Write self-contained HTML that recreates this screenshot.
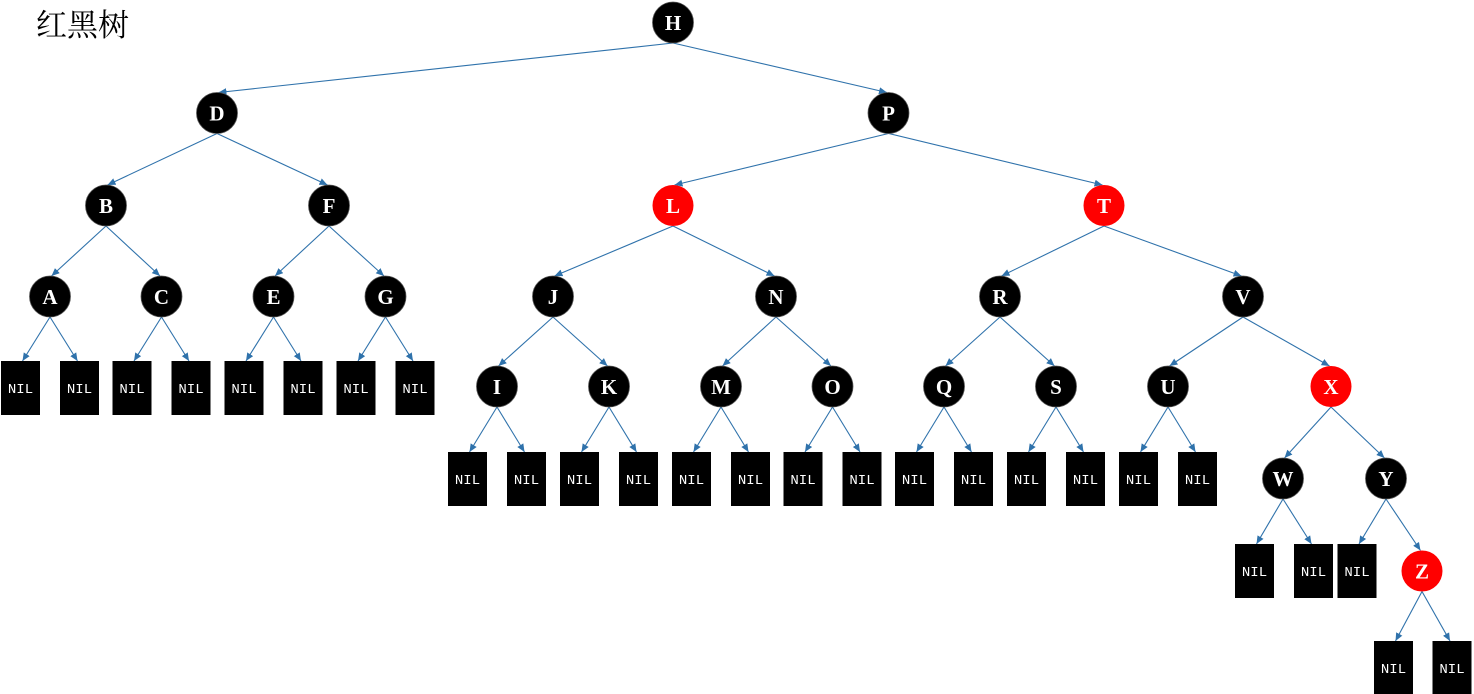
<!DOCTYPE html>
<html><head><meta charset="utf-8"><style>
html,body{margin:0;padding:0;background:#fff;}
svg{display:block;}
.e{stroke:#2f72ab;stroke-width:1.1;fill:none;marker-end:url(#ah);}
.c{stroke:#555;stroke-width:0.8;}
.lt{font-family:"Liberation Serif",serif;font-size:21px;font-weight:bold;fill:#fff;text-anchor:middle;}
.nl{font-family:"Liberation Mono",monospace;font-size:14px;fill:#fff;text-anchor:middle;}
</style></head><body>
<svg width="1474" height="694" viewBox="0 0 1474 694" xmlns="http://www.w3.org/2000/svg">
<defs><marker id="ah" markerUnits="userSpaceOnUse" markerWidth="9" markerHeight="8" refX="8" refY="3.5" orient="auto"><path d="M0,0 L8,3.5 L0,7 z" fill="#2f72ab"/></marker></defs>
<text x="36" y="36" style="font-family:'Noto Serif CJK SC','Liberation Serif',serif;font-size:31px;fill:#000;">红黑树</text>
<line class="e" x1="673" y1="43" x2="218.5" y2="92.5"/>
<line class="e" x1="673" y1="43" x2="887" y2="92.5"/>
<line class="e" x1="217" y1="133.5" x2="107.5" y2="185"/>
<line class="e" x1="217" y1="133.5" x2="327.5" y2="185"/>
<line class="e" x1="888.5" y1="133.5" x2="674.5" y2="185"/>
<line class="e" x1="888.5" y1="133.5" x2="1102.5" y2="185"/>
<line class="e" x1="106" y1="226" x2="51.5" y2="276"/>
<line class="e" x1="106" y1="226" x2="160" y2="276"/>
<line class="e" x1="329" y1="226" x2="275" y2="276"/>
<line class="e" x1="329" y1="226" x2="384" y2="276"/>
<line class="e" x1="673" y1="226" x2="554.5" y2="276"/>
<line class="e" x1="673" y1="226" x2="774.5" y2="276"/>
<line class="e" x1="1104" y1="226" x2="1001.5" y2="276"/>
<line class="e" x1="1104" y1="226" x2="1241.5" y2="276"/>
<line class="e" x1="553" y1="317" x2="498.5" y2="366"/>
<line class="e" x1="553" y1="317" x2="607.5" y2="366"/>
<line class="e" x1="776" y1="317" x2="722.5" y2="366"/>
<line class="e" x1="776" y1="317" x2="831" y2="366"/>
<line class="e" x1="1000" y1="317" x2="945.5" y2="366"/>
<line class="e" x1="1000" y1="317" x2="1054.5" y2="366"/>
<line class="e" x1="1243" y1="317" x2="1169.5" y2="366"/>
<line class="e" x1="1243" y1="317" x2="1329.5" y2="366"/>
<line class="e" x1="1331" y1="407" x2="1284.5" y2="458"/>
<line class="e" x1="1331" y1="407" x2="1384.5" y2="458"/>
<line class="e" x1="1386" y1="499" x2="1420.5" y2="550.5"/>
<line class="e" x1="50" y1="317" x2="22.5" y2="361"/>
<line class="e" x1="50" y1="317" x2="77.5" y2="361"/>
<line class="e" x1="161.5" y1="317" x2="134" y2="361"/>
<line class="e" x1="161.5" y1="317" x2="189" y2="361"/>
<line class="e" x1="273.5" y1="317" x2="246" y2="361"/>
<line class="e" x1="273.5" y1="317" x2="301" y2="361"/>
<line class="e" x1="385.5" y1="317" x2="358" y2="361"/>
<line class="e" x1="385.5" y1="317" x2="413" y2="361"/>
<line class="e" x1="497" y1="407" x2="469.5" y2="452"/>
<line class="e" x1="497" y1="407" x2="524.5" y2="452"/>
<line class="e" x1="609" y1="407" x2="581.5" y2="452"/>
<line class="e" x1="609" y1="407" x2="636.5" y2="452"/>
<line class="e" x1="721" y1="407" x2="693.5" y2="452"/>
<line class="e" x1="721" y1="407" x2="748.5" y2="452"/>
<line class="e" x1="832.5" y1="407" x2="805" y2="452"/>
<line class="e" x1="832.5" y1="407" x2="860" y2="452"/>
<line class="e" x1="944" y1="407" x2="916.5" y2="452"/>
<line class="e" x1="944" y1="407" x2="971.5" y2="452"/>
<line class="e" x1="1056" y1="407" x2="1028.5" y2="452"/>
<line class="e" x1="1056" y1="407" x2="1083.5" y2="452"/>
<line class="e" x1="1168" y1="407" x2="1140.5" y2="452"/>
<line class="e" x1="1168" y1="407" x2="1195.5" y2="452"/>
<line class="e" x1="1283" y1="499" x2="1256.5" y2="544"/>
<line class="e" x1="1283" y1="499" x2="1311.5" y2="544"/>
<line class="e" x1="1386" y1="499" x2="1359" y2="544"/>
<line class="e" x1="1422" y1="591.5" x2="1395.5" y2="641"/>
<line class="e" x1="1422" y1="591.5" x2="1450" y2="641"/>
<circle class="c" cx="673" cy="22.5" r="20.5" fill="#000"/><text class="lt" x="673" y="30">H</text>
<circle class="c" cx="217" cy="113" r="20.5" fill="#000"/><text class="lt" x="217" y="120.5">D</text>
<circle class="c" cx="888.5" cy="113" r="20.5" fill="#000"/><text class="lt" x="888.5" y="120.5">P</text>
<circle class="c" cx="106" cy="205.5" r="20.5" fill="#000"/><text class="lt" x="106" y="213">B</text>
<circle class="c" cx="329" cy="205.5" r="20.5" fill="#000"/><text class="lt" x="329" y="213">F</text>
<circle cx="673" cy="205.5" r="20.5" fill="#ff0000"/><text class="lt" x="673" y="213">L</text>
<circle cx="1104" cy="205.5" r="20.5" fill="#ff0000"/><text class="lt" x="1104" y="213">T</text>
<circle class="c" cx="50" cy="296.5" r="20.5" fill="#000"/><text class="lt" x="50" y="304">A</text>
<circle class="c" cx="161.5" cy="296.5" r="20.5" fill="#000"/><text class="lt" x="161.5" y="304">C</text>
<circle class="c" cx="273.5" cy="296.5" r="20.5" fill="#000"/><text class="lt" x="273.5" y="304">E</text>
<circle class="c" cx="385.5" cy="296.5" r="20.5" fill="#000"/><text class="lt" x="385.5" y="304">G</text>
<circle class="c" cx="553" cy="296.5" r="20.5" fill="#000"/><text class="lt" x="553" y="304">J</text>
<circle class="c" cx="776" cy="296.5" r="20.5" fill="#000"/><text class="lt" x="776" y="304">N</text>
<circle class="c" cx="1000" cy="296.5" r="20.5" fill="#000"/><text class="lt" x="1000" y="304">R</text>
<circle class="c" cx="1243" cy="296.5" r="20.5" fill="#000"/><text class="lt" x="1243" y="304">V</text>
<circle class="c" cx="497" cy="386.5" r="20.5" fill="#000"/><text class="lt" x="497" y="394">I</text>
<circle class="c" cx="609" cy="386.5" r="20.5" fill="#000"/><text class="lt" x="609" y="394">K</text>
<circle class="c" cx="721" cy="386.5" r="20.5" fill="#000"/><text class="lt" x="721" y="394">M</text>
<circle class="c" cx="832.5" cy="386.5" r="20.5" fill="#000"/><text class="lt" x="832.5" y="394">O</text>
<circle class="c" cx="944" cy="386.5" r="20.5" fill="#000"/><text class="lt" x="944" y="394">Q</text>
<circle class="c" cx="1056" cy="386.5" r="20.5" fill="#000"/><text class="lt" x="1056" y="394">S</text>
<circle class="c" cx="1168" cy="386.5" r="20.5" fill="#000"/><text class="lt" x="1168" y="394">U</text>
<circle cx="1331" cy="386.5" r="20.5" fill="#ff0000"/><text class="lt" x="1331" y="394">X</text>
<circle class="c" cx="1283" cy="478.5" r="20.5" fill="#000"/><text class="lt" x="1283" y="486">W</text>
<circle class="c" cx="1386" cy="478.5" r="20.5" fill="#000"/><text class="lt" x="1386" y="486">Y</text>
<circle cx="1422" cy="571" r="20.5" fill="#ff0000"/><text class="lt" x="1422" y="578.5">Z</text>
<g fill="#000">
<rect x="1" y="361" width="39" height="54"/><rect x="60" y="361" width="39" height="54"/>
<rect x="112.5" y="361" width="39" height="54"/><rect x="171.5" y="361" width="39" height="54"/>
<rect x="224.5" y="361" width="39" height="54"/><rect x="283.5" y="361" width="39" height="54"/>
<rect x="336.5" y="361" width="39" height="54"/><rect x="395.5" y="361" width="39" height="54"/>
<rect x="448" y="452" width="39" height="54"/><rect x="507" y="452" width="39" height="54"/>
<rect x="560" y="452" width="39" height="54"/><rect x="619" y="452" width="39" height="54"/>
<rect x="672" y="452" width="39" height="54"/><rect x="731" y="452" width="39" height="54"/>
<rect x="783.5" y="452" width="39" height="54"/><rect x="842.5" y="452" width="39" height="54"/>
<rect x="895" y="452" width="39" height="54"/><rect x="954" y="452" width="39" height="54"/>
<rect x="1007" y="452" width="39" height="54"/><rect x="1066" y="452" width="39" height="54"/>
<rect x="1119" y="452" width="39" height="54"/><rect x="1178" y="452" width="39" height="54"/>
<rect x="1235" y="544" width="39" height="54"/><rect x="1294" y="544" width="39" height="54"/>
<rect x="1337.5" y="544" width="39" height="54"/>
<rect x="1374" y="641" width="39" height="54"/><rect x="1432.5" y="641" width="39" height="54"/>
</g>
<text class="nl" x="20.5" y="393">NIL</text><text class="nl" x="79.5" y="393">NIL</text>
<text class="nl" x="132" y="393">NIL</text><text class="nl" x="191" y="393">NIL</text>
<text class="nl" x="244" y="393">NIL</text><text class="nl" x="303" y="393">NIL</text>
<text class="nl" x="356" y="393">NIL</text><text class="nl" x="415" y="393">NIL</text>
<text class="nl" x="467.5" y="484">NIL</text><text class="nl" x="526.5" y="484">NIL</text>
<text class="nl" x="579.5" y="484">NIL</text><text class="nl" x="638.5" y="484">NIL</text>
<text class="nl" x="691.5" y="484">NIL</text><text class="nl" x="750.5" y="484">NIL</text>
<text class="nl" x="803" y="484">NIL</text><text class="nl" x="862" y="484">NIL</text>
<text class="nl" x="914.5" y="484">NIL</text><text class="nl" x="973.5" y="484">NIL</text>
<text class="nl" x="1026.5" y="484">NIL</text><text class="nl" x="1085.5" y="484">NIL</text>
<text class="nl" x="1138.5" y="484">NIL</text><text class="nl" x="1197.5" y="484">NIL</text>
<text class="nl" x="1254.5" y="576">NIL</text><text class="nl" x="1313.5" y="576">NIL</text>
<text class="nl" x="1357" y="576">NIL</text>
<text class="nl" x="1393.5" y="673">NIL</text><text class="nl" x="1452" y="673">NIL</text>
</svg>
</body></html>
